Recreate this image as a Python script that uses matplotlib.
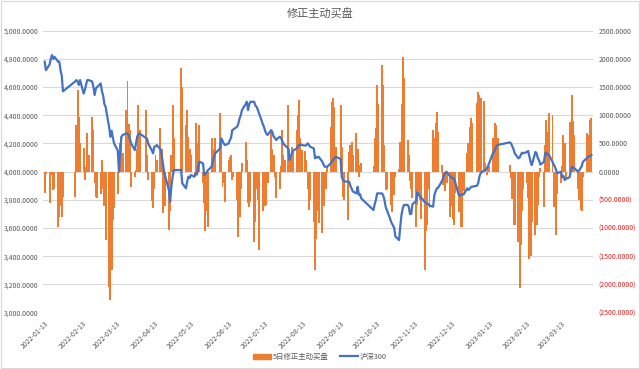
import matplotlib
matplotlib.use("Agg")
import matplotlib.pyplot as plt
import matplotlib.dates as mdates
import matplotlib.patches as mpatches
from matplotlib.lines import Line2D
from matplotlib.ticker import FuncFormatter, FixedLocator
import pandas as pd
import numpy as np

plt.rcParams['font.family'] = ['Noto Sans CJK SC', 'DejaVu Sans']

# ---------------- data ----------------
title = "修正主动买盘"
bar_label = "5日修正主动买盘"
line_label = "沪深300"

start_date = "2022-01-13"
end_date = "2023-04-07"
holidays = ["2022-01-31", "2022-02-01", "2022-02-02", "2022-02-03", "2022-02-04",
            "2022-04-04", "2022-04-05", "2022-05-02", "2022-05-03", "2022-05-04",
            "2022-06-03", "2022-09-12", "2022-10-03", "2022-10-04", "2022-10-05",
            "2022-10-06", "2022-10-07", "2023-01-02", "2023-01-23", "2023-01-24",
            "2023-01-25", "2023-01-26", "2023-01-27", "2023-04-05"]

# 沪深300 (left axis)
hs300_2022_01 = [4780, 4720, 4760, 4800, 4827, 4800, 4815, 4780, 4780, 4720, 4680, 4570]
hs300_2022_02 = [4640, 4650, 4640, 4615, 4650, 4555, 4580, 4620, 4650, 4650, 4640, 4600, 4544, 4590, 4600, 4626]
hs300_2022_03 = [4570, 4540, 4480, 4461, 4310, 4248, 4290, 4240, 4200, 4150, 4000, 4150, 4248, 4260, 4272, 4270,
                 4260, 4230, 4200, 4153, 4200, 4250, 4265]
hs300_2022_04 = [4270, 4240, 4236, 4200, 4150, 4130, 4177, 4180, 4189, 4160, 4120, 4060, 4000, 3965, 3870, 3787,
                 3894, 3960, 4012]
hs300_2022_05 = [4012, 3917, 3882, 3930, 3965, 3955, 3976, 3965, 3988, 3980, 4030, 4071, 4059, 3976, 3985, 3995,
                 4010, 4035, 4075]
hs300_2022_06 = [4106, 4130, 4165, 4236, 4220, 4200, 4189, 4200, 4224, 4240, 4295, 4300, 4319, 4340, 4378, 4400,
                 4437, 4480, 4496, 4437, 4480]
hs300_2022_07 = [4496, 4496, 4470, 4460, 4440, 4414, 4340, 4319, 4290, 4270, 4260, 4295, 4280, 4248, 4240, 4225,
                 4248, 4240, 4220, 4200, 4189]
hs300_2022_08 = [4165, 4083, 4110, 4130, 4150, 4165, 4180, 4189, 4195, 4189, 4185, 4189, 4201, 4190, 4177, 4165,
                 4095, 4106, 4100, 4106, 4071, 4050, 4035]
hs300_2022_09 = [4035, 4035, 4060, 4071, 4085, 4095, 4106, 4090, 3960, 3941, 3930, 3930, 3929, 3900, 3882, 3860,
                 3846, 3893, 3835, 3840, 3810]
hs300_2022_10 = [3728, 3770, 3800, 3846, 3846, 3846, 3830, 3800, 3750, 3728, 3657, 3634, 3620, 3600, 3540, 3515]
hs300_2022_11 = [3610, 3693, 3740, 3764, 3765, 3750, 3700, 3700, 3770, 3790, 3858, 3840, 3825, 3820, 3785, 3780,
                 3775, 3770, 3760, 3752, 3835, 3860]
hs300_2022_12 = [3882, 3885, 3930, 3950, 3976, 3990, 4000, 3965, 3960, 3955, 3950, 3930, 3835, 3830, 3835, 3840,
                 3838, 3882, 3870, 3880, 3890, 3894]
hs300_2023_01 = [3900, 3920, 3965, 3990, 4010, 4010, 4020, 4040, 4060, 4130, 4140, 4160, 4180, 4190, 4208, 4200]
hs300_2023_02 = [4180, 4160, 4130, 4095, 4100, 4120, 4135, 4130, 4140, 4147, 4110, 4070, 4047, 4140, 4130, 4095,
                 4080, 4050, 4070, 4130]
hs300_2023_03 = [4135, 4120, 4120, 4070, 4050, 4035, 4010, 3990, 4000, 3960, 3970, 3941, 3950, 3960, 4000, 4035,
                 4030, 4025, 4000, 4010, 4024, 4040, 4070]
hs300_2023_04 = [4095, 4106, 4110, 4118]

# 5日修正主动买盘 (right axis)
buy_2022_01 = [-372, -40, -550, -60, -40, -325, -300, -975, -800, -600, -800, -440]
buy_2022_02 = [-440, 830, 1450, 970, 500, 420, -150, 80, 680, 300, 970, 740, -200, -440, -460, -400]
buy_2022_03 = [200, -300, -600, -1210, -2040, -2280, -1740, -860, -650, -400, 150, 500, 620, 330, 1090, 1600,
               850, 740, -270, -90, 30, 400, 1180]
buy_2022_04 = [740, 1100, 300, -150, -520, -650, -300, 300, 200, 770, 400, -740, -500, -600, -1030, -700,
               300, 1180, 600]
buy_2022_05 = [1830, 1500, 830, 1090, 620, 400, 300, -50, 860, 500, 300, 830, -200, -560, -1060, -700,
               -975, 590, 400]
buy_2022_06 = [400, 600, 1035, 500, -270, -200, -530, 200, 260, 300, -150, -100, -500, -1150, -800, -300,
               150, 530, 200, -560, -620]
buy_2022_07 = [-530, -1240, -900, -300, -500, -1390, -700, -400, -600, -590, -200, 740, 410, 300, -100, -470,
               -300, 100, 740, 300, 200]
buy_2022_08 = [1180, 400, 200, 440, 350, 740, 1000, 1270, 600, 380, 360, 200, -300, -680, -500, -900,
               -1740, -1200, -700, -915, -1090, -600, -210]
buy_2022_09 = [-300, 100, 800, 1240, 1300, 1150, 440, 1180, 440, -440, -500, -860, 355, 470, 530, 300,
               680, 400, -90, 120, 150]
buy_2022_10 = [100, 590, 770, 1540, 1200, 1890, 1540, 470, -325, -300, -590, -710, -300, -410, -90, 50]
buy_2022_11 = [530, 1200, 2040, 1655, 560, 300, -170, -300, -470, -975, -590, -350, -500, -830, -1745, -1060,
               -940, -300, -650, 740, 600, 860]
buy_2022_12 = [1065, 700, 120, -240, -120, -350, -200, -800, -600, -830, -945, -380, -710, -500, -975, -975,
               -350, 325, 500, 800, 945, 860]
buy_2023_01 = [1210, 1420, 1360, 1300, 1250, 150, -60, 80, 100, 590, 470, 860, 830, 600, 120, -120]
buy_2023_02 = [-480, -945, -945, -1240, -2070, -1300, -700, -300, -200, -470, -1540, -1500, -900, -1120, -940, -590,
               -100, 60, -620, 470]
buy_2023_03 = [915, 700, 1035, 1000, -620, -620, -1120, -400, -200, 100, 650, 500, -150, 890, 700, 1360,
               900, 650, -300, -500, -680, -700, -100]
buy_2023_04 = [680, 650, 915, 950]

xtick_labels = ["2022-01-13", "2022-02-13", "2022-03-13", "2022-04-13", "2022-05-13", "2022-06-13",
                "2022-07-13", "2022-08-13", "2022-09-13", "2022-10-13", "2022-11-13", "2022-12-13",
                "2023-01-13", "2023-02-13", "2023-03-13"]

# ---------------- assemble ----------------
dates = pd.bdate_range(start_date, end_date)
dates = dates[~dates.isin(pd.to_datetime(holidays))]

hs300 = (hs300_2022_01 + hs300_2022_02 + hs300_2022_03 + hs300_2022_04 + hs300_2022_05 + hs300_2022_06 +
         hs300_2022_07 + hs300_2022_08 + hs300_2022_09 + hs300_2022_10 + hs300_2022_11 + hs300_2022_12 +
         hs300_2023_01 + hs300_2023_02 + hs300_2023_03 + hs300_2023_04)
buy = (buy_2022_01 + buy_2022_02 + buy_2022_03 + buy_2022_04 + buy_2022_05 + buy_2022_06 +
       buy_2022_07 + buy_2022_08 + buy_2022_09 + buy_2022_10 + buy_2022_11 + buy_2022_12 +
       buy_2023_01 + buy_2023_02 + buy_2023_03 + buy_2023_04)
n = min(len(dates), len(hs300), len(buy))
dates = dates[:n]
hs300 = hs300[:n]
buy = buy[:n]

# ---------------- plot ----------------
text_gray = "#595959"
grid_gray = "#d9d9d9"
orange = "#ED7D31"
blue = "#4472C4"
tick_fs = 5.0

fig = plt.figure(figsize=(6.4, 3.69), dpi=100)
ax = fig.add_axes([0.067, 0.1526, 0.86, 0.7642])
ax2 = ax.twinx()

# bars on ax (right-side scale), line on ax2 (left-side scale)
ax.bar(dates, buy, width=1.6, color=orange, linewidth=0, zorder=2)
ax.set_ylim(-2500, 2500)
ax.yaxis.tick_right()
ax.set_yticks(np.arange(-2500, 2501, 500))


def right_fmt(v, pos):
    if v < 0:
        return "({:.4f})".format(-v)
    return "{:.4f}".format(v)


ax.yaxis.set_major_formatter(FuncFormatter(right_fmt))
ax.tick_params(axis='y', length=0, labelsize=tick_fs, pad=4)
for lbl, v in zip(ax.get_yticklabels(), np.arange(-2500, 2501, 500)):
    lbl.set_color("#E02020" if v < 0 else text_gray)
ax.grid(axis='y', color=grid_gray, linewidth=0.8, zorder=0)
ax.set_axisbelow(True)

ax2.plot(dates, hs300, color=blue, linewidth=1.6, zorder=3)
ax2.set_ylim(3000, 5000)
ax2.yaxis.tick_left()
ax2.set_yticks(np.arange(3000, 5001, 200))
ax2.yaxis.set_major_formatter(FuncFormatter(lambda v, p: "{:,.4f}".format(v)))
ax2.tick_params(axis='y', length=0, labelsize=tick_fs, colors=text_gray, pad=3)
ax2.patch.set_visible(False)

for a in (ax, ax2):
    for s in a.spines.values():
        s.set_visible(False)

ax.set_xlim(pd.Timestamp("2022-01-11 12:00"), pd.Timestamp("2023-04-08 12:00"))
ax.xaxis.set_major_locator(FixedLocator(mdates.date2num(pd.to_datetime(xtick_labels))))
ax.set_xticklabels(xtick_labels, rotation=45, ha='right', rotation_mode='anchor')
ax.tick_params(axis='x', length=0, labelsize=tick_fs, colors=text_gray, pad=5)

fig.text(0.5, 0.965, title, ha='center', va='center', fontsize=8, color=text_gray)

handles = [mpatches.Patch(color=orange), Line2D([0], [0], color=blue, linewidth=1.6)]
fig.legend(handles, [bar_label, line_label], loc='center', bbox_to_anchor=(0.5, 0.033), ncol=2,
           frameon=False, fontsize=5.3, labelcolor=text_gray, handlelength=2.4, handleheight=0.7,
           columnspacing=1.5, handletextpad=0.3)

fig.patches.append(mpatches.Rectangle((0.001, 0.002), 0.997, 0.995, transform=fig.transFigure,
                                      fill=False, edgecolor=grid_gray, linewidth=0.8))

fig.savefig("out.png", dpi=100)
